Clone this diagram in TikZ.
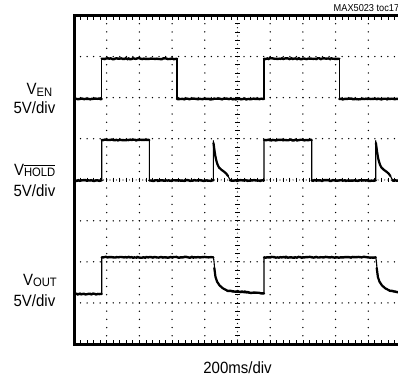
\documentclass[tikz,border=0pt]{standalone}
\usepackage{fontspec}
\setmainfont{Liberation Sans}[FakeStretch=0.92]
\usetikzlibrary{decorations.pathmorphing}
\newcommand\subf{\fontsize{12.2}{14}\selectfont}
\newcommand\ovl[1]{\setbox0\hbox{#1}\rlap{\rule[\dimexpr\ht0+2.2pt\relax]{\wd0}{1.3pt}}\box0}
\begin{document}
\begin{tikzpicture}[x=1pt,y=-1pt,
  edge/.style={line width=1.1pt, line join=round},
  flat/.style={line width=2.4pt, line cap=round, decorate, decoration={random steps, segment length=1.5pt, amplitude=0.45pt}},
  curve/.style={line width=2.2pt, line cap=round},
  framebox/.style={line width=3pt},
  tick/.style={line width=0.8pt},
  lab/.style={font=\fontsize{16.3}{18}\selectfont, inner sep=0pt, anchor=base east},
  note/.style={font=\fontsize{10}{12}\selectfont, inner sep=0pt, anchor=base west},
]
\pgfmathsetseed{7}
\useasboundingbox (0,0) rectangle (398,377);
\begin{scope}
\clip (0,0) rectangle (398,377);
% dotted grid lines
\foreach \i in {1,2,3,4,6,7,8,9} {
  \foreach \k in {1,...,39} {
    \fill (74+32.7*\i, 15.5+8.2125*\k) circle (0.75);
  }
}
\foreach \j in {1,2,3,5,6,7} {
  \foreach \k in {1,...,49} {
    \fill (74+6.54*\k, 15.5+41.06*\j) circle (0.75);
  }
}
% centre lines with ticks
\foreach \k in {1,...,79} {
  \fill (237.5, 15.5+4.106*\k) circle (0.6);
}
\foreach \k in {1,...,39} {
  \draw[tick] (235.2, 15.5+8.2125*\k) -- (239.8, 15.5+8.2125*\k);
}
\foreach \k in {1,...,99} {
  \fill (74+3.27*\k, 179.98) circle (0.6);
}
\foreach \k in {1,...,49} {
  \draw[tick] (74+6.54*\k, 177.7) -- (74+6.54*\k, 182.3);
}
% frame ticks
\foreach \k in {1,...,49} {
  \draw[tick] (74+6.54*\k, 15.5) -- ++(0,4.5);
  \draw[tick] (74+6.54*\k, 344) -- ++(0,-4.5);
}
% frame
\draw[framebox] (74,15.5) rectangle (401,344);

% V_EN trace
\draw[edge] (75,99) -- (101.7,99) -- (101.7,58.7) -- (177,58.7) -- (177,99)
  -- (264,99) -- (264,58.7) -- (339.3,58.7) -- (339.3,99) -- (401,99);
\draw[flat] (75,99) -- (101.7,99);
\draw[flat] (101.7,58.7) -- (177,58.7);
\draw[flat] (177,99) -- (264,99);
\draw[flat] (264,58.7) -- (339.3,58.7);
\draw[flat] (339.3,99) -- (401,99);

% V_HOLD trace
\draw[edge] (75,180.5) -- (101.7,180.5) -- (101.7,140) -- (149.3,140) -- (149.3,180.5)
  -- (213.3,180.5) -- (213.3,140.7)
  .. controls (214.5,150) and (215.5,162) .. (219,167.5)
  .. controls (222,171) and (226,172) .. (228,176)
  .. controls (229,178.5) and (230,180.5) .. (232,180.5)
  -- (264,180.5) -- (264,140) -- (311.7,140) -- (311.7,180.5)
  -- (375.7,180.5) -- (375.7,140.7)
  .. controls (376.9,150) and (377.9,162) .. (381.4,167.5)
  .. controls (384.4,171) and (388.4,172) .. (390.4,176)
  .. controls (391.4,178.5) and (392.4,180.5) .. (394.4,180.5)
  -- (401,180.5);
\draw[curve] (213.5,143) .. controls (214.5,150) and (215.5,162) .. (219,167.5)
  .. controls (222,171) and (226,172) .. (228,176);
\draw[curve] (375.9,143) .. controls (376.9,150) and (377.9,162) .. (381.4,167.5)
  .. controls (384.4,171) and (388.4,172) .. (390.4,176);
\draw[flat] (75,180.5) -- (101.7,180.5);
\draw[flat] (101.7,140) -- (149.3,140);
\draw[flat] (149.3,180.5) -- (213.3,180.5);
\draw[flat] (230,180.5) -- (264,180.5);
\draw[flat] (264,140) -- (311.7,140);
\draw[flat] (311.7,180.5) -- (375.7,180.5);
\draw[flat] (392.4,180.5) -- (401,180.5);

% V_OUT trace
\draw[edge] (75,294) -- (101.7,294) -- (101.7,257.3) -- (213.3,257.3)
  .. controls (214.5,262) and (214.5,272) .. (215.5,277)
  .. controls (217,284) and (221,288) .. (227,290.5)
  .. controls (232,292.3) and (245,293) .. (264,293.5)
  -- (264,257.3) -- (375.7,257.3)
  .. controls (376.9,262) and (376.9,272) .. (377.9,277)
  .. controls (379.4,284) and (383.4,288) .. (389.4,290.5)
  .. controls (394.4,292.3) and (400,292.8) .. (405,293);
\draw[curve] (214.3,268) .. controls (214.6,272) .. (215.5,277)
  .. controls (217,284) and (221,288) .. (227,290.5);
\draw[curve] (376.7,268) .. controls (377,272) .. (377.9,277)
  .. controls (379.4,284) and (383.4,288) .. (389.4,290.5);
\draw[flat] (75,294) -- (101.7,294);
\draw[flat] (101.7,257.3) -- (213.3,257.3);
\draw[flat] (227,290.7) -- (264,293.5);
\draw[flat] (264,257.3) -- (375.7,257.3);
\draw[flat] (389.4,290.7) -- (401,292.8);

% note
\node[note] (toc) at (333.5,12) {MAX5023 toc17};
\end{scope}

% labels
\node[lab] (ven) at (52.5,95) {V\raisebox{-1.5pt}{\subf EN}};
\node[lab] (vendiv) at (55.5,113.3) {5V/div};
\node[lab] (vhold) at (55.5,175.7) {V\raisebox{-1pt}{\subf\ovl{HOLD}}};
\node[lab] (vholddiv) at (55.5,196.7) {5V/div};
\node[lab] (vout) at (57,285) {V\raisebox{-1.5pt}{\subf OUT}};
\node[lab] (voutdiv) at (55.5,306.7) {5V/div};
\node[font=\fontsize{16.3}{18}\selectfont, inner sep=0pt, anchor=base] (time) at (237.5,373.3) {200ms/div};
\end{tikzpicture}
\end{document}
